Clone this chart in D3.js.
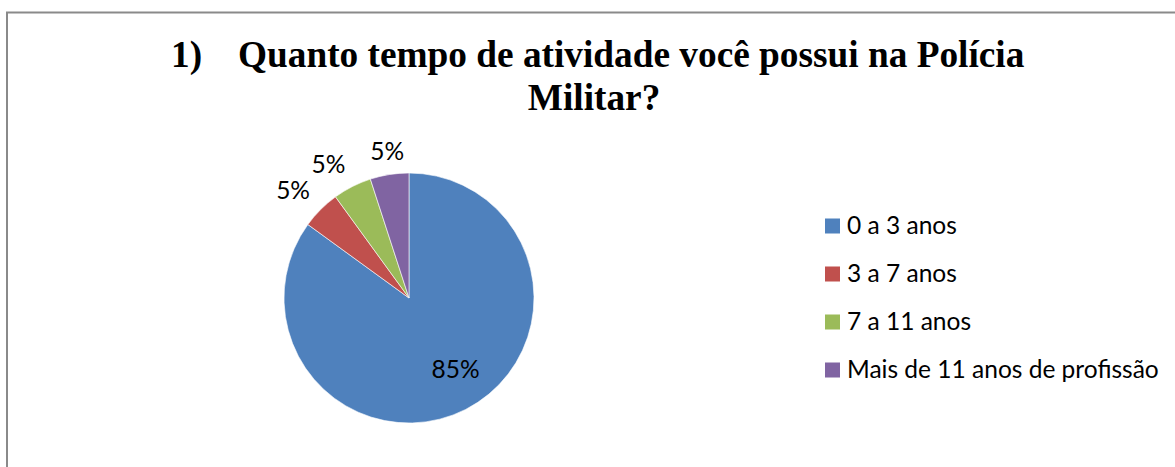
<!DOCTYPE html>
<html>
<head>
<meta charset="utf-8">
<script src="https://cdn.jsdelivr.net/npm/d3@7"></script>
<style>
  body { margin: 0; background: #fff; }
  svg { display: block; }
</style>
</head>
<body>
<div class="chart"></div>
<script>
// data
var categories = ["0 a 3 anos", "3 a 7 anos", "7 a 11 anos", "Mais de 11 anos de profissão"];
var values = [85, 5, 5, 5];
var colors = ["#4F81BD", "#C0504D", "#9BBB59", "#8064A2"];
var titleNumber = "1)";
var titleLines = ["Quanto tempo de atividade você possui na Polícia", "Militar?"];

var width = 1175, height = 467;
var labelFont = "Lato, 'Open Sans', sans-serif";

var svg = d3.select(".chart")
    .append("svg")
    .attr("width", width)
    .attr("height", height);

// chart border (right and bottom edges fall outside the picture)
svg.append("rect")
    .attr("x", 7)
    .attr("y", 12.5)
    .attr("width", 1190)
    .attr("height", 480)
    .attr("fill", "none")
    .attr("stroke", "#8a8a8a")
    .attr("stroke-width", 2);

// title
var title = svg.append("g")
    .style("font-family", "'Liberation Serif', 'Times New Roman', serif")
    .style("font-weight", "bold")
    .style("font-size", "37.3px")
    .attr("fill", "#000");
title.append("text").attr("x", 171).attr("y", 67).text(titleNumber);
title.append("text").attr("x", 238).attr("y", 67).text(titleLines[0]);
title.append("text").attr("x", 594).attr("y", 110)
    .attr("text-anchor", "middle").text(titleLines[1]);

// work out a font size so the longest legend entry has the same width as the picture
var probe = svg.append("text")
    .style("font-family", labelFont)
    .style("font-size", "100px")
    .text(categories[3]);
var fontSize = 100 * 312 / probe.node().getComputedTextLength();
probe.remove();
var capH = fontSize * 0.72;

// pie
var cx = 409, cy = 298, radius = 125;
var pie = d3.pie().sort(null).value(function (d) { return d; });
var arcs = pie(values);
var arc = d3.arc().innerRadius(0).outerRadius(radius);
var total = d3.sum(values);

var g = svg.append("g")
    .attr("transform", "translate(" + cx + "," + cy + ")");

g.selectAll("path.slice")
    .data(arcs)
    .enter()
    .append("path")
    .attr("class", "slice")
    .attr("d", arc)
    .attr("fill", function (d, i) { return colors[i]; })
    .attr("stroke", "#fff")
    .attr("stroke-width", 0.6);

// data labels: big slice inside, small ones just outside the rim
var labels = g.selectAll("text.lbl")
    .data(arcs)
    .enter()
    .append("text")
    .attr("class", "lbl")
    .style("font-family", labelFont)
    .style("font-size", fontSize + "px")
    .attr("fill", "#000")
    .attr("text-anchor", "middle")
    .text(function (d) { return Math.round(d.value / total * 100) + "%"; });

// how much of the half box to push out, by direction component
function push(c) {
    var t = Math.max(0, Math.min(1, (Math.abs(c) - 0.2) / 0.2));
    return (c < 0 ? -1 : 1) * t;
}

labels.each(function (d) {
    var el = d3.select(this);
    var mid = (d.startAngle + d.endAngle) / 2;
    var dx = Math.sin(mid), dy = -Math.cos(mid);
    var w = this.getComputedTextLength();
    var px, py;
    if (d.endAngle - d.startAngle > Math.PI / 2) {
        px = dx * radius * 0.68 + 8;
        py = dy * radius * 0.68 - 5;
    } else {
        var r = radius + 15;
        px = dx * r + push(dx) * w / 2;
        py = dy * r + push(dy) * capH / 2;
    }
    // py is the middle of the digits, move to baseline
    el.attr("x", px).attr("y", py + capH / 2);
});

// legend
var legend = svg.append("g")
    .attr("transform", "translate(825,0)");
var rowY = d3.scalePoint()
    .domain(categories)
    .range([226, 370]);

var item = legend.selectAll("g.item")
    .data(categories)
    .enter()
    .append("g")
    .attr("class", "item")
    .attr("transform", function (d) { return "translate(0," + rowY(d) + ")"; });

item.append("rect")
    .attr("x", 0)
    .attr("y", -7.5)
    .attr("width", 15)
    .attr("height", 15)
    .attr("fill", function (d, i) { return colors[i]; });

item.append("text")
    .attr("x", 22)
    .attr("y", 8)
    .style("font-family", labelFont)
    .style("font-size", fontSize + "px")
    .attr("fill", "#000")
    .text(function (d) { return d; });
</script>
</body>
</html>
